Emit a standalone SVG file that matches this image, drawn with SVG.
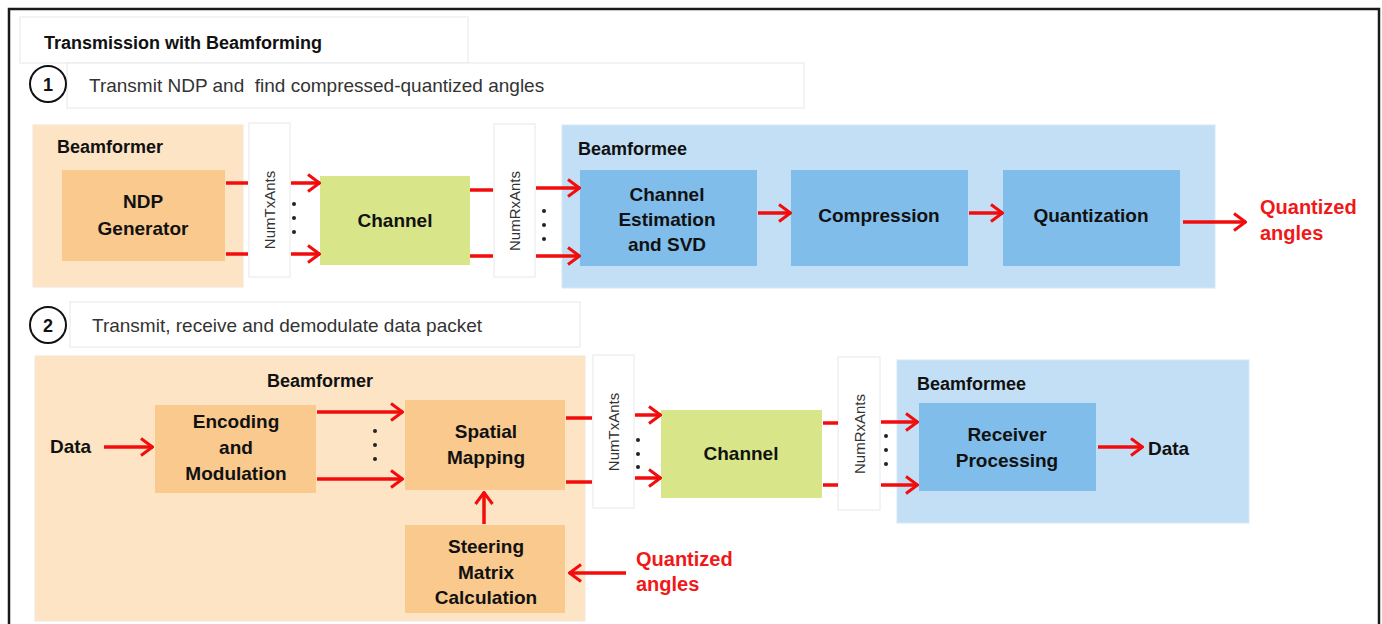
<svg xmlns="http://www.w3.org/2000/svg" width="1382" height="624" viewBox="0 0 1382 624">
<defs>
<marker id="ah" viewBox="0 0 14 20" refX="13" refY="10" markerWidth="14" markerHeight="20" markerUnits="userSpaceOnUse" orient="auto">
<polyline points="1,1.5 12.5,10 1,18.5" fill="none" stroke="#f20c0c" stroke-width="3"/>
</marker>
<style>
text{font-family:"Liberation Sans",Arial,sans-serif;}
.lbl{font-size:19px;font-weight:bold;fill:#111;text-anchor:middle;}
.grp{font-size:18px;font-weight:bold;fill:#111;}
.step{font-size:19px;fill:#333;}
.red{font-size:20px;font-weight:bold;fill:#f01818;}
.ant{font-size:15px;fill:#333;text-anchor:middle;}
.peach{fill:#fde4c5;stroke:#f3e6d6;stroke-width:1;}
.orange{fill:#f9c98e;}
.green{fill:#d8e689;}
.lblue{fill:#c2dff5;stroke:#d6e8f5;stroke-width:1;}
.blue{fill:#80bdeb;}
.white{fill:#fff;stroke:#e4e8ec;stroke-width:1;}
.wire{stroke:#f20c0c;stroke-width:3.5;fill:none;}
.arr{stroke:#f20c0c;stroke-width:3.5;fill:none;marker-end:url(#ah);}
.dot{fill:#222;}
</style>
</defs>
<rect x="0" y="0" width="1382" height="624" fill="#fff"/>
<rect x="9" y="9" width="1370" height="700" fill="none" stroke="#1a1a1a" stroke-width="2.5"/>

<g id="title">
<rect x="20" y="17" width="448" height="46" class="white"/>
<text x="44" y="49" class="grp" style="font-size:18px">Transmission with Beamforming</text>
</g>

<g id="step1">
<rect x="67" y="63" width="737" height="45" class="white"/>
<circle cx="48" cy="84" r="18" fill="#fff" stroke="#111" stroke-width="2"/>
<text x="48" y="91" class="lbl" style="font-size:18px">1</text>
<text x="89" y="92" class="step" xml:space="preserve">Transmit NDP and  find compressed-quantized angles</text>
</g>

<g id="beamformer1">
<rect x="33" y="125" width="210" height="162" class="peach"/>
<text x="57" y="153" class="grp">Beamformer</text>
</g>
<g id="ndp">
<rect x="62" y="170" width="163" height="91" class="orange"/>
<text x="143" y="208" class="lbl">NDP</text>
<text x="143" y="235" class="lbl">Generator</text>
</g>
<g id="numtx1">
<rect x="249" y="123" width="41" height="154" class="white"/>
<text transform="translate(275,210) rotate(-90)" class="ant">NumTxAnts</text>
</g>
<g id="channel1">
<rect x="320" y="176" width="150" height="89" class="green"/>
<text x="395" y="227" class="lbl">Channel</text>
</g>
<g id="numrx1">
<rect x="494" y="124" width="41" height="153" class="white"/>
<text transform="translate(520,211) rotate(-90)" class="ant">NumRxAnts</text>
</g>
<g id="beamformee1">
<rect x="562" y="125" width="653" height="163" class="lblue"/>
<text x="578" y="155" class="grp">Beamformee</text>
</g>
<g id="chest">
<rect x="580" y="170" width="177" height="96" class="blue"/>
<text x="667" y="201" class="lbl">Channel</text>
<text x="667" y="226" class="lbl">Estimation</text>
<text x="667" y="251" class="lbl">and SVD</text>
</g>
<g id="compression">
<rect x="791" y="170" width="177" height="96" class="blue"/>
<text x="879" y="222" class="lbl">Compression</text>
</g>
<g id="quantization">
<rect x="1003" y="170" width="177" height="96" class="blue"/>
<text x="1091" y="222" class="lbl">Quantization</text>
</g>
<g id="qa1">
<text x="1260" y="214" class="red">Quantized</text>
<text x="1260" y="240" class="red">angles</text>
</g>

<g id="step2">
<rect x="70" y="302" width="510" height="45" class="white"/>
<circle cx="48" cy="325" r="18" fill="#fff" stroke="#111" stroke-width="2"/>
<text x="48" y="332" class="lbl" style="font-size:18px">2</text>
<text x="92" y="332" class="step">Transmit, receive and demodulate data packet</text>
</g>

<g id="beamformer2">
<rect x="35" y="356" width="550" height="265" class="peach"/>
<text x="320" y="387" class="grp" text-anchor="middle">Beamformer</text>
</g>
<g id="data-in">
<text x="50" y="453" class="grp" style="font-size:19px">Data</text>
</g>
<g id="encoding">
<rect x="155" y="405" width="161" height="88" class="orange"/>
<text x="236" y="428" class="lbl">Encoding</text>
<text x="236" y="454" class="lbl">and</text>
<text x="236" y="480" class="lbl">Modulation</text>
</g>
<g id="spatial">
<rect x="405" y="400" width="160" height="90" class="orange"/>
<text x="486" y="438" class="lbl">Spatial</text>
<text x="486" y="464" class="lbl">Mapping</text>
</g>
<g id="steering">
<rect x="405" y="525" width="160" height="88" class="orange"/>
<text x="486" y="553" class="lbl">Steering</text>
<text x="486" y="579" class="lbl">Matrix</text>
<text x="486" y="604" class="lbl">Calculation</text>
</g>
<g id="qa2">
<text x="636" y="566" class="red">Quantized</text>
<text x="636" y="591" class="red">angles</text>
</g>
<g id="numtx2">
<rect x="593" y="355" width="41" height="153" class="white"/>
<text transform="translate(619,432) rotate(-90)" class="ant">NumTxAnts</text>
</g>
<g id="channel2">
<rect x="661" y="410" width="161" height="88" class="green"/>
<text x="741" y="460" class="lbl">Channel</text>
</g>
<g id="numrx2">
<rect x="838" y="357" width="42" height="153" class="white"/>
<text transform="translate(865,434) rotate(-90)" class="ant">NumRxAnts</text>
</g>
<g id="beamformee2">
<rect x="897" y="360" width="352" height="163" class="lblue"/>
<text x="917" y="390" class="grp">Beamformee</text>
</g>
<g id="receiver">
<rect x="919" y="403" width="177" height="88" class="blue"/>
<text x="1007" y="441" class="lbl">Receiver</text>
<text x="1007" y="467" class="lbl">Processing</text>
</g>
<g id="data-out">
<text x="1148" y="455" class="grp" style="font-size:19px">Data</text>
</g>

<g id="connectors">
<line x1="226" y1="183" x2="248" y2="183" class="wire"/>
<line x1="226" y1="254" x2="248" y2="254" class="wire"/>
<line x1="291" y1="183" x2="320" y2="183" class="arr"/>
<line x1="291" y1="254" x2="320" y2="254" class="arr"/>
<line x1="470" y1="190" x2="493" y2="190" class="wire"/>
<line x1="470" y1="256" x2="493" y2="256" class="wire"/>
<line x1="536" y1="188" x2="580" y2="188" class="arr"/>
<line x1="536" y1="256" x2="580" y2="256" class="arr"/>
<line x1="758" y1="213" x2="791" y2="213" class="arr"/>
<line x1="969" y1="213" x2="1003" y2="213" class="arr"/>
<line x1="1183" y1="222" x2="1246" y2="222" class="arr"/>
<line x1="104" y1="447" x2="153" y2="447" class="arr"/>
<line x1="317" y1="412" x2="403" y2="412" class="arr"/>
<line x1="317" y1="479" x2="403" y2="479" class="arr"/>
<line x1="484" y1="524" x2="484" y2="492" class="arr"/>
<line x1="626" y1="573" x2="569" y2="573" class="arr"/>
<line x1="566" y1="418" x2="592" y2="418" class="wire"/>
<line x1="566" y1="482" x2="592" y2="482" class="wire"/>
<line x1="635" y1="415" x2="661" y2="415" class="arr"/>
<line x1="635" y1="478" x2="661" y2="478" class="arr"/>
<line x1="823" y1="423" x2="838" y2="423" class="wire"/>
<line x1="823" y1="485" x2="838" y2="485" class="wire"/>
<line x1="881" y1="422" x2="918" y2="422" class="arr"/>
<line x1="881" y1="485" x2="918" y2="485" class="arr"/>
<line x1="1098" y1="447" x2="1143" y2="447" class="arr"/>
</g>

<g id="dots">
<circle cx="294" cy="204" r="2" class="dot"/>
<circle cx="294" cy="218" r="2" class="dot"/>
<circle cx="294" cy="232" r="2" class="dot"/>
<circle cx="544" cy="211" r="2" class="dot"/>
<circle cx="544" cy="225" r="2" class="dot"/>
<circle cx="544" cy="239" r="2" class="dot"/>
<circle cx="375" cy="431" r="2" class="dot"/>
<circle cx="375" cy="445" r="2" class="dot"/>
<circle cx="375" cy="459" r="2" class="dot"/>
<circle cx="638" cy="440" r="2" class="dot"/>
<circle cx="638" cy="454" r="2" class="dot"/>
<circle cx="638" cy="467" r="2" class="dot"/>
<circle cx="886" cy="436" r="2" class="dot"/>
<circle cx="886" cy="450" r="2" class="dot"/>
<circle cx="886" cy="464" r="2" class="dot"/>
</g>
</svg>
